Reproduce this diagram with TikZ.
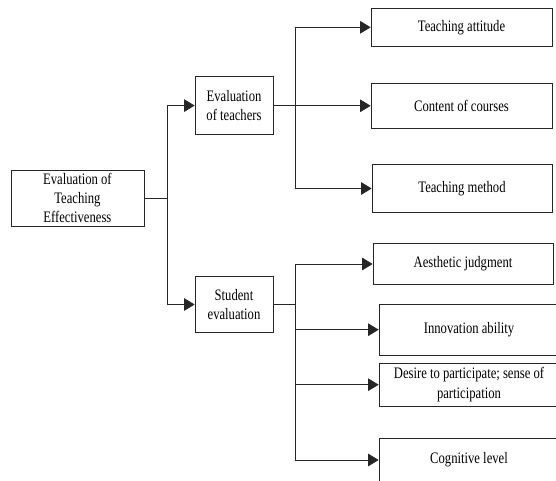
\documentclass[tikz,border=0pt]{standalone}
\usepackage{fontspec}
\setmainfont[FakeStretch=0.79]{Liberation Serif}
\usetikzlibrary{arrows.meta}

\begin{document}
\begin{tikzpicture}[x=1pt, y=-1pt,
    box/.style={draw=black!85, line width=0.7pt, rectangle, align=center, inner sep=1pt,
        font=\fontsize{16}{19.3}\selectfont},
    arr/.style={draw=black!85, line width=0.7pt, -{Triangle[length=10.5pt,width=12.5pt]}},
    link/.style={draw=black!85, line width=0.7pt}]
    % Page size of the reference
    \useasboundingbox (0,0) rectangle (556,481);
    \clip (0,0) rectangle (556,481);

    % Root and the two evaluation parts
    \node[box, minimum width=133pt, minimum height=56pt] (root) at (77.4,198) {Evaluation of\\Teaching\\Effectiveness};
    \node[box, minimum width=78pt, minimum height=58pt] (teach) at (234,105.6) {Evaluation\\of teachers};
    \node[box, minimum width=78pt, minimum height=56.5pt] (stud) at (234,304.5) {Student\\evaluation};

    % Items for the teachers
    \node[box, minimum width=181pt, minimum height=38pt] (attitude) at (461.5,27.3) {Teaching attitude};
    \node[box, minimum width=181pt, minimum height=45pt] (content) at (461.5,105.8) {Content of courses};
    \node[box, minimum width=180pt, minimum height=48pt] (method) at (462,188.5) {Teaching method};

    % Items for the students
    \node[box, minimum width=180pt, minimum height=41pt] (aesthetic) at (463,264) {Aesthetic judgment};
    \node[box, minimum width=180pt, minimum height=51.5pt] (innov) at (469,329.7) {Innovation ability};
    \node[box, minimum width=180pt, minimum height=42.7pt] (desire) at (469,384.7) {Desire to participate; sense of\\participation};
    \node[box, minimum width=180pt, minimum height=43.4pt] (cogn) at (469,460) {Cognitive level};

    % Branch points
    \coordinate (jroot) at (167,198);
    \coordinate (jteach) at (295,105.6);
    \coordinate (jstud) at (295,304.5);

    % Root to the two parts
    \draw[link] (root.east) -- (jroot);
    \draw[arr] (jroot) |- (teach.west);
    \draw[arr] (jroot) |- (stud.west);

    % Teachers to their items
    \draw[link] (teach.east) -- (jteach);
    \draw[arr] (jteach) |- (attitude.west);
    \draw[arr] (jteach) |- (content.west);
    \draw[arr] (jteach) |- (method.west);

    % Students to their items
    \draw[link] (stud.east) -- (jstud);
    \draw[arr] (jstud) |- (aesthetic.west);
    \draw[arr] (jstud) |- (innov.west);
    \draw[arr] (jstud) |- (desire.west);
    \draw[arr] (jstud) |- (cogn.west);
\end{tikzpicture}
\end{document}
